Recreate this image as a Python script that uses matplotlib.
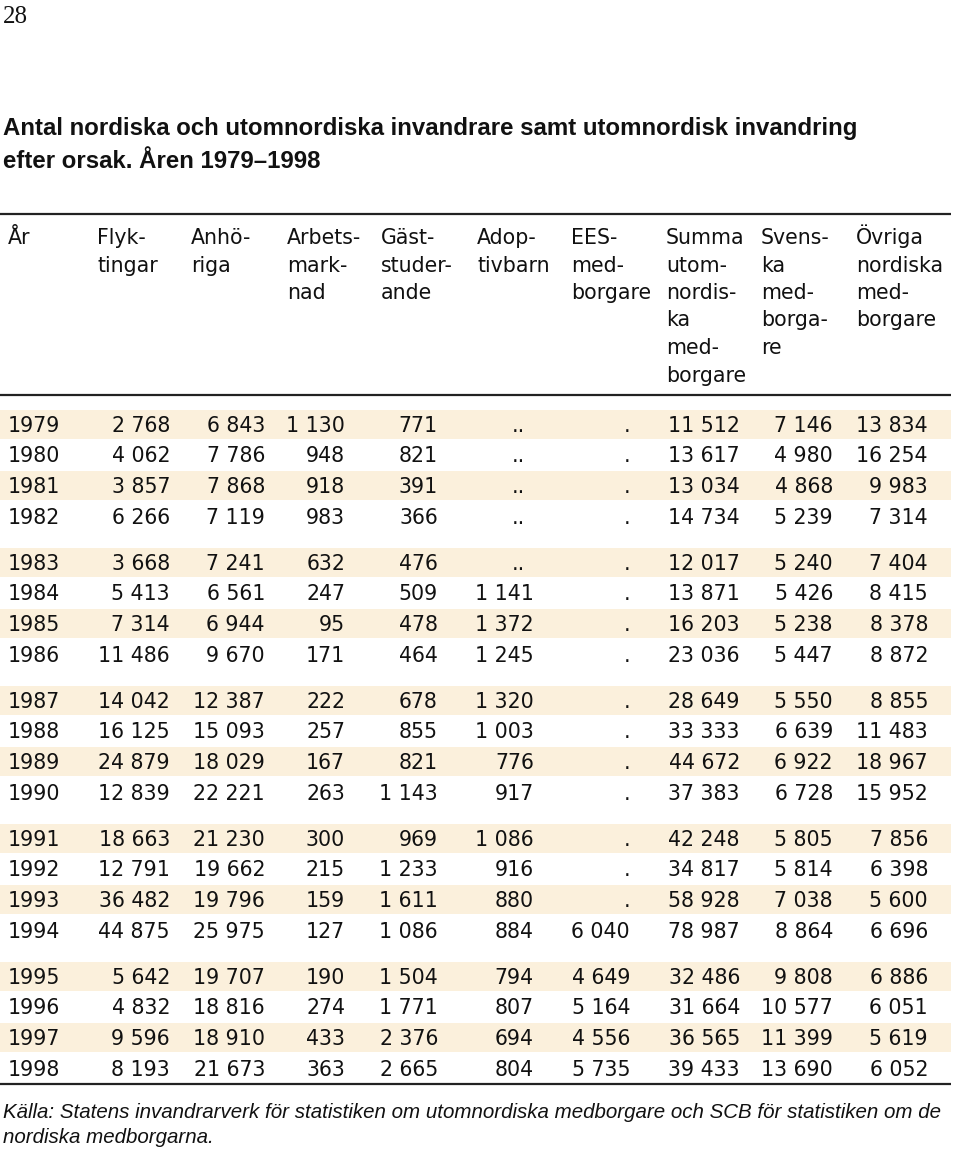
import matplotlib
matplotlib.use("Agg")
import matplotlib.pyplot as plt

# ---------------- data ----------------
years = list(range(1979, 1999))
flyktingar = [2768, 4062, 3857, 6266, 3668, 5413, 7314, 11486, 14042, 16125,
              24879, 12839, 18663, 12791, 36482, 44875, 5642, 4832, 9596, 8193]
anhoriga = [6843, 7786, 7868, 7119, 7241, 6561, 6944, 9670, 12387, 15093,
            18029, 22221, 21230, 19662, 19796, 25975, 19707, 18816, 18910, 21673]
arbetsmarknad = [1130, 948, 918, 983, 632, 247, 95, 171, 222, 257,
                 167, 263, 300, 215, 159, 127, 190, 274, 433, 363]
gaststuderande = [771, 821, 391, 366, 476, 509, 478, 464, 678, 855,
                  821, 1143, 969, 1233, 1611, 1086, 1504, 1771, 2376, 2665]
adoptivbarn = [None, None, None, None, None, 1141, 1372, 1245, 1320, 1003,
               776, 917, 1086, 916, 880, 884, 794, 807, 694, 804]
ees = [None] * 15 + [6040, 4649, 5164, 4556, 5735]
summa = [11512, 13617, 13034, 14734, 12017, 13871, 16203, 23036, 28649, 33333,
         44672, 37383, 42248, 34817, 58928, 78987, 32486, 31664, 36565, 39433]
svenska = [7146, 4980, 4868, 5239, 5240, 5426, 5238, 5447, 5550, 6639,
           6922, 6728, 5805, 5814, 7038, 8864, 9808, 10577, 11399, 13690]
ovriga = [13834, 16254, 9983, 7314, 7404, 8415, 8378, 8872, 8855, 11483,
          18967, 15952, 7856, 6398, 5600, 6696, 6886, 6051, 5619, 6052]

headers = ["År", "Flyk-\ntingar", "Anhö-\nriga", "Arbets-\nmark-\nnad",
           "Gäst-\nstuder-\nande", "Adop-\ntivbarn", "EES-\nmed-\nborgare",
           "Summa\nutom-\nnordis-\nka\nmed-\nborgare",
           "Svens-\nka\nmed-\nborga-\nre", "Övriga\nnordiska\nmed-\nborgare"]
missing_marks = [None, None, None, None, None, "..", ".", None, None, None]

page_no = "28"
title_lines = ["Antal nordiska och utomnordiska invandrare samt utomnordisk invandring",
               "efter orsak. Åren 1979–1998"]
source_lines = ["Källa: Statens invandrarverk för statistiken om utomnordiska medborgare och SCB för statistiken om de",
                "nordiska medborgarna."]

columns = [years, flyktingar, anhoriga, arbetsmarknad, gaststuderande,
           adoptivbarn, ees, summa, svenska, ovriga]

# ---------------- layout / style ----------------
W, H = 960, 1153
fig = plt.figure(figsize=(W / 100, H / 100), dpi=100)
ax = fig.add_axes([0, 0, 1, 1])
ax.set_xlim(0, W)
ax.set_ylim(H, 0)
ax.axis("off")

FONT = "DejaVu Sans"
TFONT = "Liberation Sans"
FS = 14.8
band_color = "#fbf0dc"
ink = "#111111"

header_left = [8, 97, 191, 287, 381, 477, 571, 666, 761, 856]
col_right = [8, 170, 265, 345, 438, 534, 630, 740, 833, 928]
missing_pad = [0, 0, 0, 0, 0, 9, 0, 0, 0, 0]


def fmt(v):
    return f"{v:,}".replace(",", " ")


# page number
ax.text(3, 23, page_no, family="Liberation Serif", fontsize=18,
        ha="left", va="baseline", color=ink)

# title
renderer = fig.canvas.get_renderer()
t1 = ax.text(3, 135, title_lines[0], family=TFONT, weight="bold", fontsize=16,
             ha="left", va="baseline", color=ink)
w = t1.get_window_extent(renderer).width
tfs = 16 * 852 / w
t1.set_fontsize(tfs)
ax.text(3, 168, title_lines[1], family=TFONT, weight="bold", fontsize=tfs,
        ha="left", va="baseline", color=ink)

# rules
for yr_line in (214, 395, 1084):
    ax.plot([0, 951], [yr_line, yr_line], color="#222222", lw=1.6,
            solid_capstyle="butt")

# headers
for j, h in enumerate(headers):
    for k, line in enumerate(h.split("\n")):
        ax.text(header_left[j], 244 + k * 27.5, line, family=FONT, fontsize=FS,
                ha="left", va="baseline", color=ink)

# rows
row_step = 30.7
group_gap = 15.2
for i, yr in enumerate(years):
    g = i // 4
    base = 431.5 + i * row_step + g * group_gap
    if i % 2 == 0:
        ax.add_patch(plt.Rectangle((0, base - 7.5 - 14.5), 951, 29,
                                   facecolor=band_color, edgecolor="none", zorder=0))
    for j, col in enumerate(columns):
        v = col[i]
        if j == 0:
            ax.text(header_left[0], base, str(v), family=FONT, fontsize=FS,
                    ha="left", va="baseline", zorder=2, color=ink)
        elif v is None:
            ax.text(col_right[j] - missing_pad[j], base, missing_marks[j], family=FONT,
                    fontsize=FS, ha="right", va="baseline", zorder=2, color=ink)
        else:
            ax.text(col_right[j], base, fmt(v), family=FONT, fontsize=FS,
                    ha="right", va="baseline", zorder=2, color=ink)

# source
s1 = ax.text(3, 1118, source_lines[0], family=TFONT, style="italic", fontsize=12,
             ha="left", va="baseline", color=ink)
w = s1.get_window_extent(renderer).width
sfs = 12 * 939 / w
s1.set_fontsize(sfs)
ax.text(3, 1143, source_lines[1], family=TFONT, style="italic", fontsize=sfs,
        ha="left", va="baseline", color=ink)

fig.savefig("out.png", dpi=100)
